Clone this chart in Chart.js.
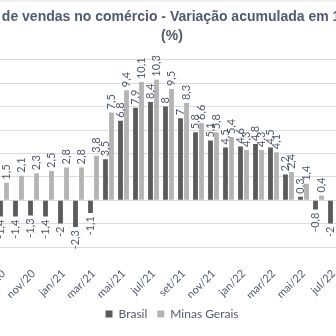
<!DOCTYPE html>
<html>
<head>
<meta charset="utf-8">
<script src="https://cdn.jsdelivr.net/npm/chart.js@4"></script>
<style>
  html, body { margin: 0; padding: 0; background: #fff; }
  /* the reference is a crop of a wider chart, so the canvas overflows the frame */
  #frame { position: relative; width: 336px; height: 336px; overflow: hidden; }
  #box { position: absolute; left: -68px; top: 0; width: 480px; height: 336px; }
  #edge { position: absolute; left: 0; top: 0; width: 336px; height: 2px; background: #f1f1f1; }
</style>
</head>
<body>
<div id="frame"><div id="box"><canvas id="chart"></canvas></div><div id="edge"></div></div>
<script>
const months = ['set/20', 'out/20', 'nov/20', 'dez/20', 'jan/21', 'fev/21', 'mar/21', 'abr/21',
  'mai/21', 'jun/21', 'jul/21', 'ago/21', 'set/21', 'out/21', 'nov/21', 'dez/21',
  'jan/22', 'fev/22', 'mar/22', 'abr/22', 'mai/22', 'jun/22', 'jul/22'];
const brasil = [-1.4, -1.4, -1.3, -1.4, -2, -2.3, -1.1, 3.5, 6.8, 7.9, 8.4, 8, 7, 5.8, 5.1, 4.5,
  4.6, 4.8, 4.5, 2.2, 0.3, -0.8, -2.0];
const minasGerais = [1.5, 2.1, 2.3, 2.5, 2.8, 2.8, 3.8, 7.5, 9.4, 10.1, 10.3, 9.5, 8.3, 6.6, 5.8, 5.4,
  4.3, 4.3, 4.1, 2.4, 1.4, 0.4, null];
const yMin = -4, yMax = 12, yStep = 2;

const titleText = ['Volume de vendas no comércio - Variação acumulada em 12 meses', '(%)'];
const textColor = '#4f5b70';

// value labels standing on the bars, rotated like in the spreadsheet
const barLabels = {
  id: 'barLabels',
  afterDatasetsDraw(chart) {
    const ctx = chart.ctx;
    ctx.save();
    ctx.font = '11px Lato';
    ctx.fillStyle = textColor;
    ctx.textBaseline = 'middle';
    chart.data.datasets.forEach((ds, i) => {
      chart.getDatasetMeta(i).data.forEach((bar, j) => {
        const v = ds.data[j];
        if (v == null) return;
        const label = String(v).replace('.', ',');
        ctx.save();
        ctx.translate(bar.x, bar.y + (v < 0 ? 3 : -3));
        ctx.rotate(-Math.PI / 2);
        ctx.textAlign = v < 0 ? 'right' : 'left';
        ctx.fillText(label, 0, 0);
        ctx.restore();
      });
    });
    ctx.restore();
  }
};

new Chart(document.getElementById('chart'), {
  type: 'bar',
  data: {
    labels: months,
    datasets: [
      { label: 'Brasil', data: brasil, backgroundColor: '#5b5b5b', borderWidth: 0,
        categoryPercentage: 0.8, barPercentage: 0.8 },
      { label: 'Minas Gerais', data: minasGerais, backgroundColor: '#b4b4b4', borderWidth: 0,
        categoryPercentage: 0.8, barPercentage: 0.8 }
    ]
  },
  options: {
    responsive: true,
    maintainAspectRatio: false,
    animation: false,
    layout: { padding: { top: 0, bottom: 6, left: 0, right: 0 } },
    plugins: {
      title: {
        display: true,
        text: titleText,
        color: textColor,
        font: { family: 'Arial, "Liberation Sans", sans-serif', size: 14, weight: 'bold', lineHeight: 1.35 },
        padding: { top: 8, bottom: 14 }
      },
      legend: {
        position: 'bottom',
        labels: { boxWidth: 7, boxHeight: 7, color: textColor, font: { family: 'Lato', size: 12 }, padding: 10 }
      },
      tooltip: { enabled: false }
    },
    scales: {
      x: {
        grid: { display: false },
        border: { display: false },
        ticks: {
          autoSkip: false, minRotation: 45, maxRotation: 45, padding: 12,
          color: textColor, font: { family: 'Lato', size: 11 },
          callback(v, i) { return i % 2 === 0 ? this.getLabelForValue(v) : ''; }
        },
        // keep the plot inside the visible crop while the title spans the whole canvas
        afterFit(s) { s.paddingLeft = 64; s.paddingRight = 71; s.height = 51; }
      },
      y: {
        min: yMin, max: yMax,
        ticks: { stepSize: yStep, display: false },
        grid: { color: '#dcdcdc', drawTicks: false },
        border: { display: false }
      }
    }
  },
  plugins: [barLabels]
});
</script>
</body>
</html>
